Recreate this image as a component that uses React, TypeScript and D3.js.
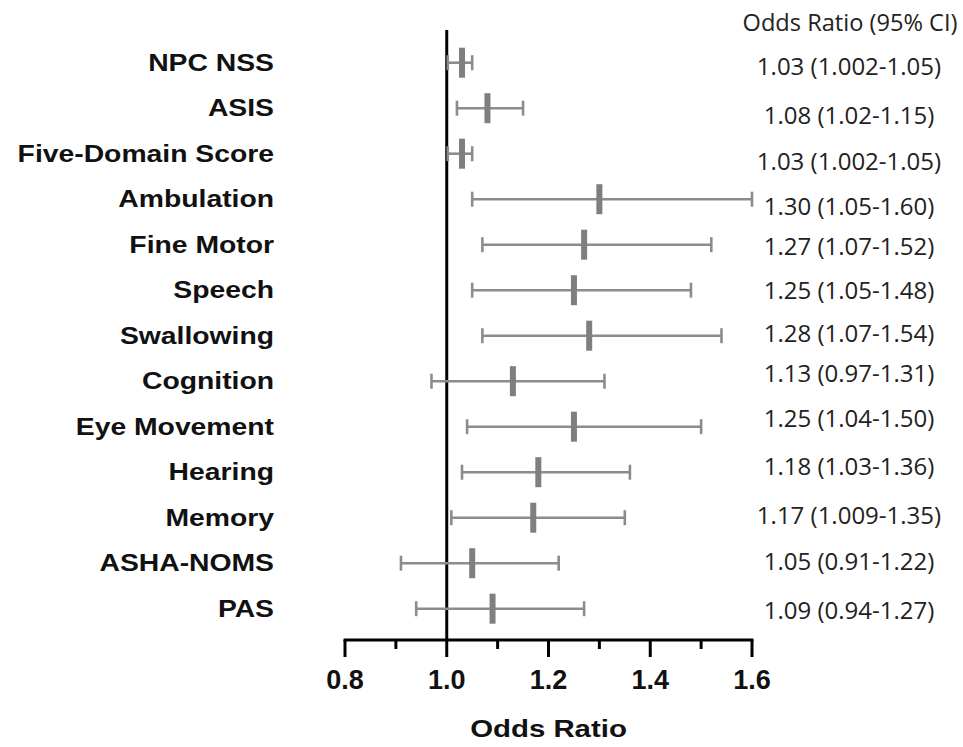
import React from "react";
import * as d3 from "d3";

const categories = [
  "NPC NSS",
  "ASIS",
  "Five-Domain Score",
  "Ambulation",
  "Fine Motor",
  "Speech",
  "Swallowing",
  "Cognition",
  "Eye Movement",
  "Hearing",
  "Memory",
  "ASHA-NOMS",
  "PAS",
];
const oddsRatio = [1.03, 1.08, 1.03, 1.3, 1.27, 1.25, 1.28, 1.13, 1.25, 1.18, 1.17, 1.05, 1.09];
const ciLower = [1.002, 1.02, 1.002, 1.05, 1.07, 1.05, 1.07, 0.97, 1.04, 1.03, 1.009, 0.91, 0.94];
const ciUpper = [1.05, 1.15, 1.05, 1.6, 1.52, 1.48, 1.54, 1.31, 1.5, 1.36, 1.35, 1.22, 1.27];
const ciText = [
  "1.03 (1.002-1.05)",
  "1.08 (1.02-1.15)",
  "1.03 (1.002-1.05)",
  "1.30 (1.05-1.60)",
  "1.27 (1.07-1.52)",
  "1.25 (1.05-1.48)",
  "1.28 (1.07-1.54)",
  "1.13 (0.97-1.31)",
  "1.25 (1.04-1.50)",
  "1.18 (1.03-1.36)",
  "1.17 (1.009-1.35)",
  "1.05 (0.91-1.22)",
  "1.09 (0.94-1.27)",
];
const majorTicks = [0.8, 1.0, 1.2, 1.4, 1.6];
const minorTicks = [0.9, 1.1, 1.3, 1.5];
const xDomain = [0.8, 1.6];

// layout: small vertical nudges of the right-hand text column (px)
const ciTextNudge = [4, 7, 8, 7.5, 2, 0, -2.7, -8, -8.7, -5.5, -2.7, -1.5, 1.3];

const W = 963;
const H = 747;
const BOLD = "'Liberation Sans', Arial, Helvetica, sans-serif";
const REG = "'Open Sans', 'Noto Sans', sans-serif";

export default function App() {
  const x = d3.scaleLinear().domain(xDomain).range([345, 752]);
  const y = d3
    .scalePoint<string>()
    .domain(categories)
    .range([62.7, 608.7]);
  const axisY = 640;
  const gray = "#8c8c8c";
  const markGray = "#7f7f7f";

  return (
    <svg
      width={W}
      height={H}
      style={{ position: "absolute", left: 0, top: 0, background: "#fff" }}
    >
      {/* reference line at OR = 1 */}
      <line x1={x(1)} x2={x(1)} y1={30} y2={axisY} stroke="#000" strokeWidth={3} />

      {/* error bars */}
      {categories.map((c, i) => {
        const cy = y(c)!;
        return (
          <g key={c}>
            <line x1={x(ciLower[i])} x2={x(ciUpper[i])} y1={cy} y2={cy} stroke={gray} strokeWidth={2.6} />
            <line x1={x(ciLower[i])} x2={x(ciLower[i])} y1={cy - 7.5} y2={cy + 7.5} stroke={gray} strokeWidth={2.6} />
            <line x1={x(ciUpper[i])} x2={x(ciUpper[i])} y1={cy - 7.5} y2={cy + 7.5} stroke={gray} strokeWidth={2.6} />
            <rect x={x(oddsRatio[i]) - 3} y={cy - 15} width={6} height={30} fill={markGray} />
          </g>
        );
      })}

      {/* row labels */}
      {categories.map((c) => (
        <g key={"l" + c} transform={`translate(274,${y(c)! + 8}) scale(1.18,1)`}>
          <text x={0} y={0} textAnchor="end" fontFamily={BOLD} fontWeight="bold" fontSize={24} fill="#111">
            {c}
          </text>
        </g>
      ))}

      {/* right text column */}
      <text x={850} y={31} textAnchor="middle" fontFamily={REG} fontSize={23.6} fill="#222">
        Odds Ratio (95% CI)
      </text>
      {categories.map((c, i) => (
        <text
          key={"t" + c}
          x={849}
          y={y(c)! + ciTextNudge[i] + 8.5}
          textAnchor="middle"
          fontFamily={REG}
          fontSize={24}
          fill="#222"
        >
          {ciText[i]}
        </text>
      ))}

      {/* x axis */}
      <line x1={x(0.8) - 1.5} x2={x(1.6) + 1.5} y1={axisY} y2={axisY} stroke="#000" strokeWidth={3} />
      {majorTicks.map((t) => (
        <line key={"M" + t} x1={x(t)} x2={x(t)} y1={axisY} y2={axisY + 17} stroke="#000" strokeWidth={3} />
      ))}
      {minorTicks.map((t) => (
        <line key={"m" + t} x1={x(t)} x2={x(t)} y1={axisY} y2={axisY + 9} stroke="#000" strokeWidth={3} />
      ))}
      {majorTicks.map((t) => (
        <text
          key={"tl" + t}
          x={x(t)}
          y={689}
          textAnchor="middle"
          fontFamily={BOLD}
          fontWeight="bold"
          fontSize={27}
          fill="#111"
        >
          {d3.format(".1f")(t)}
        </text>
      ))}
      <g transform={`translate(${x(1.2)},737) scale(1.2,1)`}>
        <text x={0} y={0} textAnchor="middle" fontFamily={BOLD} fontWeight="bold" fontSize={24.5} fill="#111">
          Odds Ratio
        </text>
      </g>
    </svg>
  );
}
